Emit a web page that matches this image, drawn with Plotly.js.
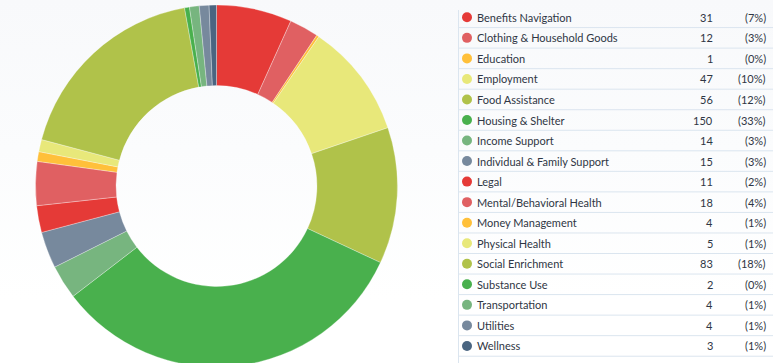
<!DOCTYPE html>
<html>
<head>
<meta charset="utf-8">
<script src="https://cdn.plot.ly/plotly-3.0.1.min.js"></script>
<style>
  html, body { margin:0; padding:0; width:773px; height:363px; overflow:hidden;
    background: linear-gradient(to bottom, #f8f9fb 0px, #fbfcfd 150px, #ffffff 300px); }
  #chart { width:773px; height:372px; }
</style>
</head>
<body>
<div id="chart"></div>
<script>
const categories = ["Benefits Navigation","Clothing & Household Goods","Education","Employment","Food Assistance","Housing & Shelter","Income Support","Individual & Family Support","Legal","Mental/Behavioral Health","Money Management","Physical Health","Social Enrichment","Substance Use","Transportation","Utilities","Wellness"];
const counts = [31,12,1,47,56,150,14,15,11,18,4,5,83,2,4,4,3];
const colors = ["#e53a37","#e06062","#ffc03a","#e8e87a","#b0c24a","#49b04d","#77b57f","#77899d","#e53a37","#e06062","#ffc03a","#e8e87a","#b0c24a","#49b04d","#77b57f","#77899d","#4a6581"];

const total = counts.reduce((a,b)=>a+b,0);
const pctText = counts.map(v => "(" + Math.round(v/total*100) + "%)");
const rows = categories.map((c,i)=>i);

const W = 773, H = 372;
const rowH = 20.54, firstRow = 17.3;
const r0 = -firstRow/rowH, r1 = r0 + H/rowH;

const pie = {
  type: "pie",
  values: counts,
  labels: categories,
  marker: { colors: colors, line: { color: "rgba(255,255,255,0.6)", width: 0.5 } },
  sort: false,
  direction: "clockwise",
  rotation: 0,
  hole: 0.555,
  textinfo: "none",
  showlegend: false,
  domain: { x: [35/W, 398/W], y: [(H-367)/H, (H-5)/H] }
};

const dots = {
  type: "scatter",
  mode: "markers",
  x: rows.map(()=>467),
  y: rows,
  marker: { color: colors, size: 10 },
  hoverinfo: "skip",
  showlegend: false
};

const annotations = [];
const shapes = [];
rows.forEach(i => {
  const f = { family: "Lato, 'Open Sans', sans-serif", size: 11, color: "#2f3644" };
  annotations.push({ x: 476, y: i, xref: "x", yref: "y", text: categories[i], showarrow: false, xanchor: "left", yanchor: "middle", borderpad: 0, font: f });
  annotations.push({ x: 714, y: i, xref: "x", yref: "y", text: String(counts[i]), showarrow: false, xanchor: "right", yanchor: "middle", borderpad: 0, font: f });
  annotations.push({ x: 767, y: i, xref: "x", yref: "y", text: pctText[i], showarrow: false, xanchor: "right", yanchor: "middle", borderpad: 0, font: f });
  shapes.push({ type: "line", xref: "x", yref: "y", x0: 459, x1: 773, y0: i + 0.5, y1: i + 0.5, line: { color: "#dbe5ef", width: 1 } });
});
shapes.push({ type: "line", xref: "x", yref: "y", x0: 458.5, x1: 458.5, y0: r0 + 10/rowH, y1: r1, line: { color: "#dbe5ef", width: 1 } });

const layout = {
  width: W, height: H,
  margin: { l: 0, r: 0, t: 0, b: 0 },
  paper_bgcolor: "rgba(0,0,0,0)",
  plot_bgcolor: "rgba(0,0,0,0)",
  xaxis: { range: [0, W], visible: false, fixedrange: true, domain: [0,1] },
  yaxis: { range: [r1, r0], visible: false, fixedrange: true, domain: [0,1] },
  annotations: annotations,
  shapes: shapes,
  showlegend: false
};

Plotly.newPlot("chart", [pie, dots], layout, { displayModeBar: false, staticPlot: true });
</script>
</body>
</html>
